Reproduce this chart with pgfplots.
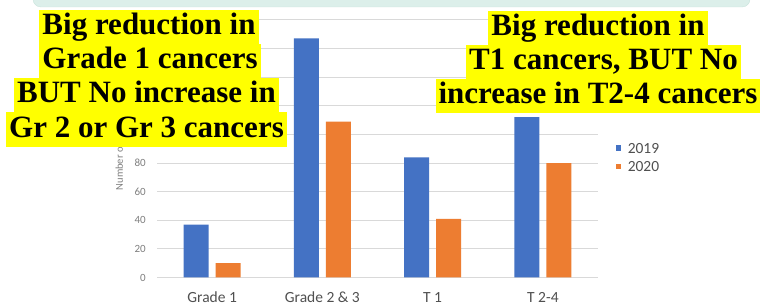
\documentclass[border=0pt]{standalone}
\usepackage{fontspec}
\setmainfont{Liberation Serif}[BoldFont={Liberation Serif Bold}]
\newfontfamily\tnrb{Liberation Serif Bold}
\newfontfamily\calfont{Carlito}
\usepackage{pgfplots}
\pgfplotsset{compat=1.18}
\definecolor{cblue}{HTML}{4472C4}
\definecolor{corange}{HTML}{ED7D31}
\definecolor{gridc}{HTML}{D9D9D9}
\definecolor{txtgray}{HTML}{505050}
\definecolor{tickgray}{HTML}{7F7F7F}
\definecolor{hl}{HTML}{FFFF00}
\definecolor{mint}{HTML}{DCEFEA}
\definecolor{mintb}{HTML}{C9E4DC}
\begin{document}
\begin{tikzpicture}[x=1pt,y=1pt]
\fill[white] (0,0) rectangle (772,304);
\filldraw[fill=mint,draw=mintb,rounded corners=8pt] (33,297) rectangle (750,320);
\begin{axis}[
  at={(157pt,26.5pt)}, anchor=south west,
  scale only axis, width=441pt, height=257.6pt,
  ymin=0, ymax=180, xmin=-0.5, xmax=3.5,
  ybar=7pt, bar width=25pt,
  ytick={0,20,...,180},
  yticklabels={0,20,40,60,80,,,,,},
  xtick={0,1,2,3},
  xticklabels={Grade 1, Grade 2 \& 3, T 1, T 2-4},
  ymajorgrids, grid style={gridc, line width=0.8pt},
  axis line style={draw=none},
  tick style={draw=none},
  /pgf/number format/assume math mode=true,
  xticklabel style={font=\calfont\fontsize{15.5}{18}\selectfont, text=txtgray, anchor=base, inner sep=0pt, text depth=0pt, yshift=-21pt},
  yticklabel style={font=\calfont\fontsize{11}{13}\selectfont, text=tickgray, anchor=east, inner sep=0pt, xshift=-11pt},
  ylabel={Number of patients},
  ylabel style={font=\calfont\fontsize{10.5}{12}\selectfont, text=tickgray, at={(axis description cs:-0.084,0.5)}, anchor=center},
  legend style={draw=none, fill=none, at={(axis description cs:1.033,0.53)}, anchor=north west,
    font=\calfont\fontsize{15.5}{18}\selectfont, text=txtgray, column sep=6.5pt, row sep=8pt,
    nodes={inner sep=0pt, text depth=0pt}},
  legend cell align=left,
]
\addplot[fill=cblue, draw=none, legend image code/.code={\fill[cblue] (0pt,-2.75pt) rectangle (5.5pt,2.75pt);}]
  coordinates {(0,37) (1,167) (2,84) (3,112)};
\addplot[fill=corange, draw=none, legend image code/.code={\fill[corange] (0pt,-2.75pt) rectangle (5.5pt,2.75pt);}]
  coordinates {(0,10) (1,109) (2,41) (3,80)};
\legend{2019,2020}
\end{axis}
\tikzset{hlbox/.style={fill=hl, inner xsep=3pt, inner ysep=2.25pt, text height=23pt, text depth=7pt,
  font=\tnrb\fontsize{31}{34}\selectfont}}
\node[hlbox] at (149,277) {Big reduction in};
\node[hlbox] at (150,243) {Grade 1 cancers};
\node[hlbox] at (146.5,209) {BUT No increase in};
\node[hlbox] at (146.5,174.5) {Gr 2 or Gr 3 cancers};
\node[hlbox] at (598,276) {Big reduction in};
\node[hlbox] at (603.5,242) {T1 cancers, BUT No};
\node[hlbox] at (598,208) {increase in T2-4 cancers};
\pgfresetboundingbox
\path[use as bounding box] (0,0) rectangle (772,304);
\end{tikzpicture}
\end{document}
